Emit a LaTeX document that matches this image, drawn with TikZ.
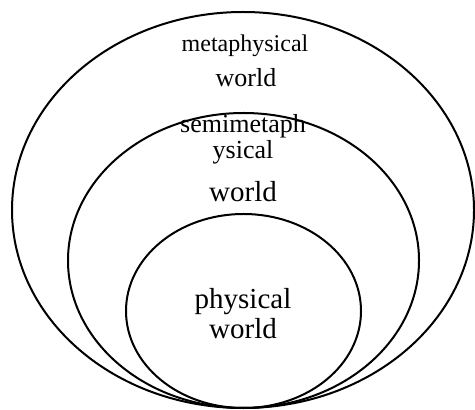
\documentclass[tikz,border=0pt]{standalone}
\usepackage{fontspec}
\setmainfont{Liberation Serif}
\usetikzlibrary{positioning}

\tikzset{
  world/.style={draw=black, line width=1pt},
  label/.style={anchor=base, inner sep=0pt, align=center}
}

\begin{document}
\begin{tikzpicture}[x=0.5pt, y=-0.5pt]
  \useasboundingbox (0,0) rectangle (475,410);
  % nested worlds, all touching at the bottom
  \draw[world] (243,210)   ellipse [x radius=231,   y radius=198];
  \draw[world] (243.5,260.5) ellipse [x radius=175.5, y radius=147.5];
  \draw[world] (243.5,311) ellipse [x radius=117.5, y radius=97];

  \node[label, font=\fontsize{12}{13}\selectfont] (meta) at (245,52) {metaphysical};
  \node[label, font=\fontsize{13}{14}\selectfont] (metaw) at (246,87) {world};
  \node[label, font=\fontsize{13}{14}\selectfont] (semi) at (243,133) {semimetaph};
  \node[label, font=\fontsize{13}{14}\selectfont] (semib) at (243,159) {ysical};
  \node[label, font=\fontsize{14.5}{15}\selectfont] (semiw) at (243,202) {world};
  \node[label, font=\fontsize{14.5}{15}\selectfont] (phys) at (243,308) {physical};
  \node[label, font=\fontsize{14.5}{15}\selectfont] (physw) at (243,338) {world};
\end{tikzpicture}
\end{document}
